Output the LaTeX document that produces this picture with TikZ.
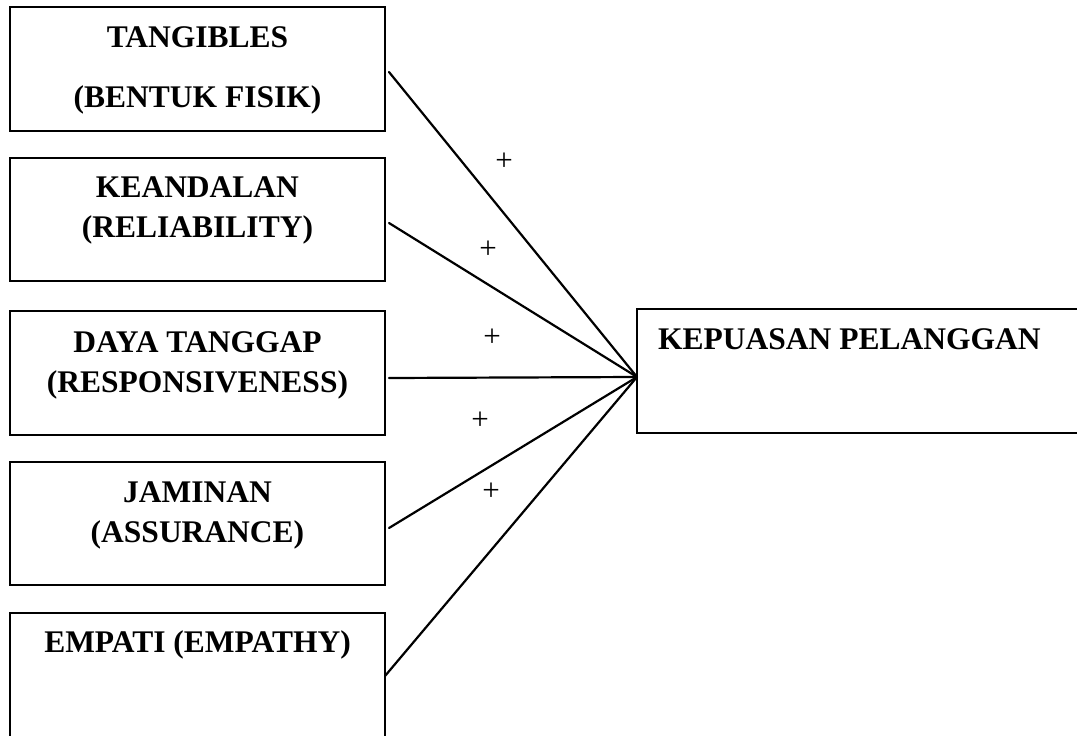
\documentclass[tikz,border=0pt]{standalone}
\usepackage{fontspec}
\setmainfont{Liberation Serif}
\begin{document}
\begin{tikzpicture}[x=1pt,y=-1pt,
  box/.style={draw=black,line width=1.4pt},
  lbl/.style={font=\fontsize{31.5}{36}\selectfont\bfseries,anchor=base,inner sep=0pt},
  plus/.style={font=\fontsize{31}{36}\selectfont,inner sep=0pt},
  link/.style={line width=2.2pt,line cap=round}]
\useasboundingbox (0,0) rectangle (1077,736);
\clip (0,0) rectangle (1077,736);
% boxes
\node[box,inner sep=0pt,minimum width=375pt,minimum height=124pt] (b1) at (197.5,69) {};
\node[box,inner sep=0pt,minimum width=375pt,minimum height=123pt] (b2) at (197.5,219.5) {};
\node[box,inner sep=0pt,minimum width=375pt,minimum height=124pt] (b3) at (197.5,373) {};
\node[box,inner sep=0pt,minimum width=375pt,minimum height=123pt] (b4) at (197.5,523.5) {};
\node[box,inner sep=0pt,minimum width=375pt,minimum height=132pt] (b5) at (197.5,679) {};
\node[box,inner sep=0pt,minimum width=450pt,minimum height=124pt] (k) at (862,371) {};
% texts
\node[lbl] (t1a) at (197.5,47) {TANGIBLES};
\node[lbl] (t1b) at (197.5,107) {(BENTUK FISIK)};
\node[lbl] (t2a) at (197.5,197) {KEANDALAN};
\node[lbl] (t2b) at (197.5,237) {(RELIABILITY)};
\node[lbl] (t3a) at (197.5,352) {DAYA TANGGAP};
\node[lbl] (t3b) at (197.5,392) {(RESPONSIVENESS)};
\node[lbl] (t4a) at (197.5,502) {JAMINAN};
\node[lbl] (t4b) at (197.5,542) {(ASSURANCE)};
\node[lbl] (t5) at (197.5,652) {EMPATI (EMPATHY)};
\node[lbl,anchor=base west] (tk) at (658,349) {KEPUASAN PELANGGAN};
% connector ends
\coordinate (s1) at (389,72);
\coordinate (s2) at (389,223);
\coordinate (s3) at (389,378);
\coordinate (s4) at (389,528);
\coordinate (s5) at (385,676);
\coordinate (m) at (637,377);
\foreach \s in {s1,s2,s3,s4,s5} \draw[link] (\s) -- (m);
% plus labels
\node[plus] (p1) at (504,162) {+};
\node[plus] (p2) at (488,250) {+};
\node[plus] (p3) at (492,338) {+};
\node[plus] (p4) at (480,421) {+};
\node[plus] (p5) at (491,492) {+};
\end{tikzpicture}
\end{document}
